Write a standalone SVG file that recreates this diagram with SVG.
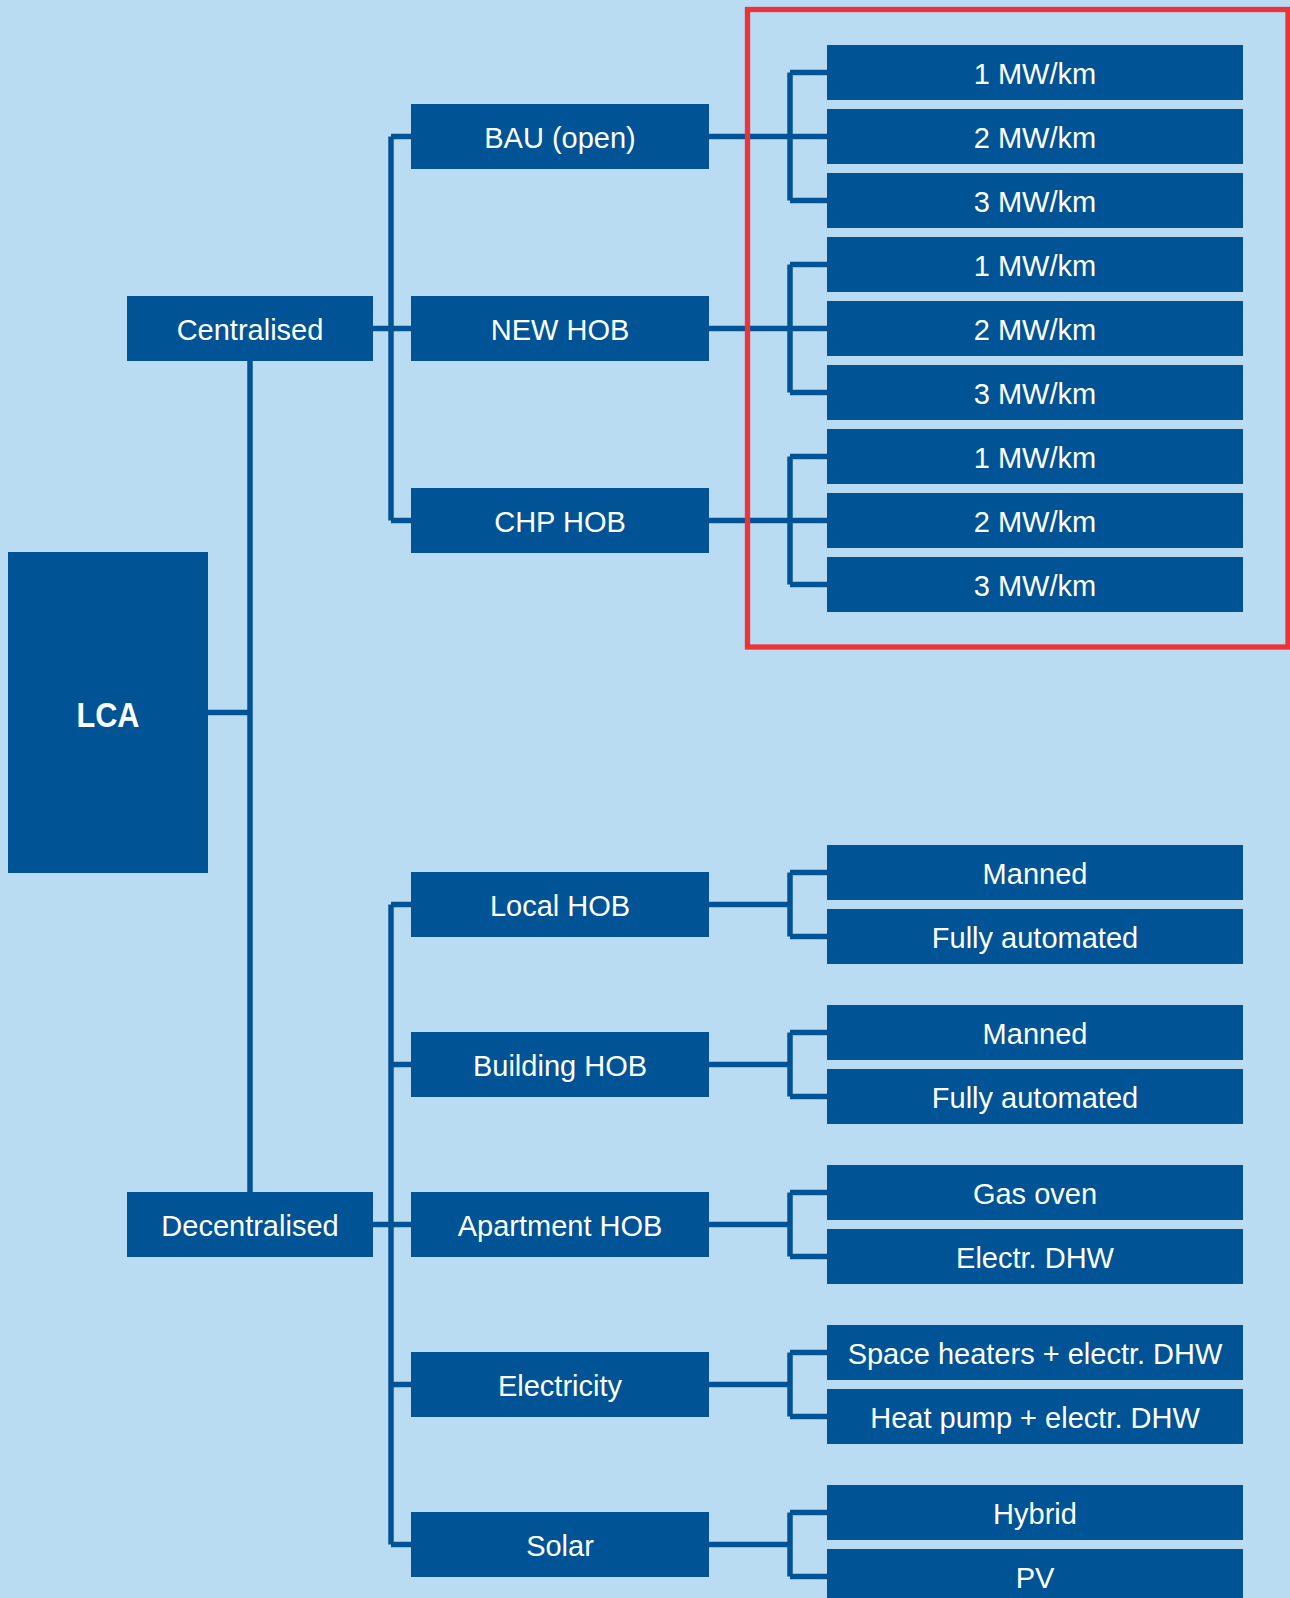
<svg xmlns="http://www.w3.org/2000/svg" width="1290" height="1598" viewBox="0 0 1290 1598">
<style>
.bx{fill:#005496}
.t{fill:#fff;font-family:"Liberation Sans",Arial,sans-serif;font-size:29px;text-anchor:middle}
.tb{fill:#fff;font-family:"Liberation Sans",Arial,sans-serif;font-size:35px;font-weight:bold;text-anchor:middle}
.c{fill:none;stroke:#005496;stroke-width:5.5}
</style>
<rect width="1290" height="1598" fill="#B9DCF3"/>
<g id="connectors">
<path class="c" d="M208 712.5H250M250 361V1192"/>
<path class="c" d="M373 328.5H391M391 136.5V520.5M391 136.5H411M391 328.5H411M391 520.5H411"/>
<path class="c" d="M373 1224.5H391M391 904.5V1544.5M391 904.5H411M391 1064.5H411M391 1224.5H411M391 1384.5H411M391 1544.5H411"/>
<path class="c" d="M709 136.5H790M790 72.5V200.5M790 72.5H827M790 136.5H827M790 200.5H827"/>
<path class="c" d="M709 328.5H790M790 264.5V392.5M790 264.5H827M790 328.5H827M790 392.5H827"/>
<path class="c" d="M709 520.5H790M790 456.5V584.5M790 456.5H827M790 520.5H827M790 584.5H827"/>
<path class="c" d="M709 904.5H790M790 872.5V936.5M790 872.5H827M790 936.5H827"/>
<path class="c" d="M709 1064.5H790M790 1032.5V1096.5M790 1032.5H827M790 1096.5H827"/>
<path class="c" d="M709 1224.5H790M790 1192.5V1256.5M790 1192.5H827M790 1256.5H827"/>
<path class="c" d="M709 1384.5H790M790 1352.5V1416.5M790 1352.5H827M790 1416.5H827"/>
<path class="c" d="M709 1544.5H790M790 1512.5V1576.5M790 1512.5H827M790 1576.5H827"/>
</g>
<g id="lca"><rect class="bx" x="8" y="552" width="200" height="321"/><text class="tb" x="108" y="727" textLength="63" lengthAdjust="spacingAndGlyphs">LCA</text></g>
<g id="centralised"><rect class="bx" x="127" y="296" width="246" height="65"/><text class="t" x="250" y="339.5">Centralised</text></g>
<g id="decentralised"><rect class="bx" x="127" y="1192" width="246" height="65"/><text class="t" x="250" y="1235.5">Decentralised</text></g>
<g id="bau"><rect class="bx" x="411" y="104" width="298" height="65"/><text class="t" x="560" y="147.5">BAU (open)</text></g>
<g id="newhob"><rect class="bx" x="411" y="296" width="298" height="65"/><text class="t" x="560" y="339.5">NEW HOB</text></g>
<g id="chphob"><rect class="bx" x="411" y="488" width="298" height="65"/><text class="t" x="560" y="531.5">CHP HOB</text></g>
<g id="localhob"><rect class="bx" x="411" y="872" width="298" height="65"/><text class="t" x="560" y="915.5">Local HOB</text></g>
<g id="buildinghob"><rect class="bx" x="411" y="1032" width="298" height="65"/><text class="t" x="560" y="1075.5">Building HOB</text></g>
<g id="apartmenthob"><rect class="bx" x="411" y="1192" width="298" height="65"/><text class="t" x="560" y="1235.5">Apartment HOB</text></g>
<g id="electricity"><rect class="bx" x="411" y="1352" width="298" height="65"/><text class="t" x="560" y="1395.5">Electricity</text></g>
<g id="solar"><rect class="bx" x="411" y="1512" width="298" height="65"/><text class="t" x="560" y="1555.5">Solar</text></g>
<g id="bau1"><rect class="bx" x="827" y="45" width="416" height="55"/><text class="t" x="1035" y="83.5">1 MW/km</text></g>
<g id="bau2"><rect class="bx" x="827" y="109" width="416" height="55"/><text class="t" x="1035" y="147.5">2 MW/km</text></g>
<g id="bau3"><rect class="bx" x="827" y="173" width="416" height="55"/><text class="t" x="1035" y="211.5">3 MW/km</text></g>
<g id="new1"><rect class="bx" x="827" y="237" width="416" height="55"/><text class="t" x="1035" y="275.5">1 MW/km</text></g>
<g id="new2"><rect class="bx" x="827" y="301" width="416" height="55"/><text class="t" x="1035" y="339.5">2 MW/km</text></g>
<g id="new3"><rect class="bx" x="827" y="365" width="416" height="55"/><text class="t" x="1035" y="403.5">3 MW/km</text></g>
<g id="chp1"><rect class="bx" x="827" y="429" width="416" height="55"/><text class="t" x="1035" y="467.5">1 MW/km</text></g>
<g id="chp2"><rect class="bx" x="827" y="493" width="416" height="55"/><text class="t" x="1035" y="531.5">2 MW/km</text></g>
<g id="chp3"><rect class="bx" x="827" y="557" width="416" height="55"/><text class="t" x="1035" y="595.5">3 MW/km</text></g>
<g id="local1"><rect class="bx" x="827" y="845" width="416" height="55"/><text class="t" x="1035" y="883.5">Manned</text></g>
<g id="local2"><rect class="bx" x="827" y="909" width="416" height="55"/><text class="t" x="1035" y="947.5">Fully automated</text></g>
<g id="building1"><rect class="bx" x="827" y="1005" width="416" height="55"/><text class="t" x="1035" y="1043.5">Manned</text></g>
<g id="building2"><rect class="bx" x="827" y="1069" width="416" height="55"/><text class="t" x="1035" y="1107.5">Fully automated</text></g>
<g id="apt1"><rect class="bx" x="827" y="1165" width="416" height="55"/><text class="t" x="1035" y="1203.5">Gas oven</text></g>
<g id="apt2"><rect class="bx" x="827" y="1229" width="416" height="55"/><text class="t" x="1035" y="1267.5">Electr. DHW</text></g>
<g id="elec1"><rect class="bx" x="827" y="1325" width="416" height="55"/><text class="t" x="1035" y="1363.5">Space heaters + electr. DHW</text></g>
<g id="elec2"><rect class="bx" x="827" y="1389" width="416" height="55"/><text class="t" x="1035" y="1427.5">Heat pump + electr. DHW</text></g>
<g id="solar1"><rect class="bx" x="827" y="1485" width="416" height="55"/><text class="t" x="1035" y="1523.5">Hybrid</text></g>
<g id="solar2"><rect class="bx" x="827" y="1549" width="416" height="55"/><text class="t" x="1035" y="1587.5">PV</text></g>
<rect id="highlight" x="747.5" y="9.5" width="540.5" height="637.5" fill="none" stroke="#EE3338" stroke-width="5.3"/>
</svg>
